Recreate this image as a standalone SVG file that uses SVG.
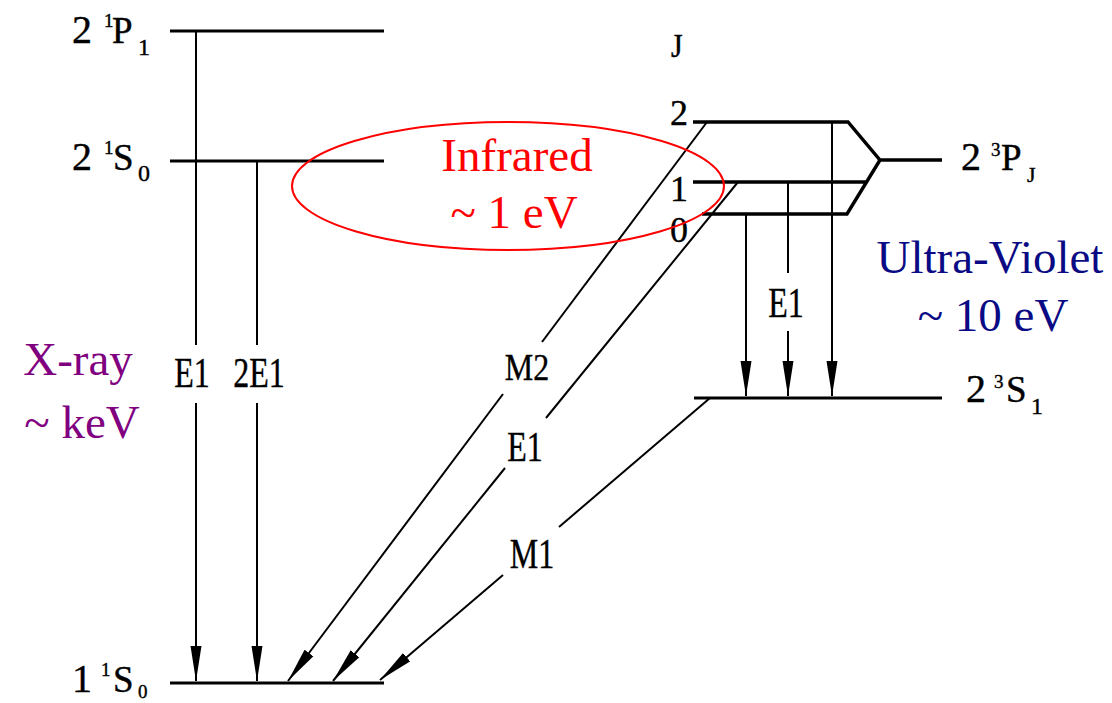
<svg xmlns="http://www.w3.org/2000/svg" width="1112" height="703" viewBox="0 0 1112 703">
<style>
.lvl{stroke:#000;stroke-width:3;fill:none}
.trip{stroke:#000;stroke-width:3.4;fill:none;stroke-linejoin:miter}
.cn{stroke:#000;stroke-width:2;fill:none}
.t{font-family:"Liberation Serif","Times New Roman",serif;fill:#000;stroke:#000;stroke-width:0.4}
.lab{font-family:"Liberation Serif","Times New Roman",serif;fill:#000;stroke:#000;stroke-width:0.3;font-size:32px;text-anchor:middle}
.big{font-family:"Liberation Serif","Times New Roman",serif;font-size:47px;text-anchor:middle}
</style>
<defs>
<marker id="ah" markerUnits="userSpaceOnUse" markerWidth="36" markerHeight="12" refX="35" refY="6" orient="auto">
<path d="M0,0.5 L35,6 L0,11.5 Z" fill="#000"/>
</marker>
</defs>
<rect width="1112" height="703" fill="#fff"/>

<g id="level-2-1P1">
<line class="lvl" x1="170" y1="31" x2="384" y2="31"/>
<text class="t" x="72" y="43" font-size="40">2</text>
<text class="t" x="104" y="27" font-size="19">1</text>
<text class="t" x="112" y="43" font-size="37">P</text>
<text class="t" x="138" y="55" font-size="24">1</text>
</g>

<g id="level-2-1S0">
<line class="lvl" x1="170" y1="161" x2="384" y2="161"/>
<text class="t" x="72" y="170" font-size="40">2</text>
<text class="t" x="104" y="154" font-size="19">1</text>
<text class="t" x="113" y="170" font-size="37">S</text>
<text class="t" x="138" y="181" font-size="24">0</text>
</g>

<g id="level-1-1S0">
<line class="lvl" x1="170" y1="683" x2="384" y2="683"/>
<text class="t" x="72" y="692" font-size="40">1</text>
<text class="t" x="101" y="676" font-size="19">1</text>
<text class="t" x="113" y="692" font-size="37">S</text>
<text class="t" x="138" y="698" font-size="19">0</text>
</g>

<g id="level-2-3PJ">
<path class="trip" d="M693,122 L848,122 L880,160 L942,160 M880,160 L847,214 L702,214 M693,182 L866,182"/>
<text class="t" transform="translate(671,57) scale(1,1.15)" font-size="30">J</text>
<text class="t" x="670" y="125" font-size="36">2</text>
<text class="t" x="670" y="201" font-size="36">1</text>
<text class="t" x="670" y="242" font-size="36">0</text>
<text class="t" x="961" y="170" font-size="40">2</text>
<text class="t" x="991" y="156" font-size="19">3</text>
<text class="t" x="1001" y="170" font-size="37">P</text>
<text class="t" x="1027" y="182" font-size="22">J</text>
</g>

<g id="level-2-3S1">
<line class="lvl" x1="694" y1="398" x2="942" y2="398"/>
<text class="t" x="966" y="402" font-size="40">2</text>
<text class="t" x="994" y="388" font-size="19">3</text>
<text class="t" x="1006" y="402" font-size="37">S</text>
<text class="t" x="1031" y="414" font-size="24">1</text>
</g>

<g id="connectors">
<line class="cn" x1="196" y1="31" x2="196" y2="345"/>
<line class="cn" x1="196" y1="403" x2="196" y2="681" marker-end="url(#ah)"/>
<line class="cn" x1="257" y1="161" x2="257" y2="345"/>
<line class="cn" x1="257" y1="403" x2="257" y2="681" marker-end="url(#ah)"/>
<line class="cn" x1="707" y1="122" x2="542" y2="342"/>
<line class="cn" x1="503" y1="394" x2="288" y2="681" marker-end="url(#ah)"/>
<line class="cn" x1="738" y1="182" x2="546" y2="418"/>
<line class="cn" x1="505" y1="468" x2="333" y2="681" marker-end="url(#ah)"/>
<line class="cn" x1="710" y1="398" x2="559" y2="527"/>
<line class="cn" x1="503" y1="575" x2="380" y2="680" marker-end="url(#ah)"/>
<line class="cn" x1="746" y1="214" x2="746" y2="396" marker-end="url(#ah)"/>
<line class="cn" x1="788" y1="182" x2="788" y2="273"/>
<line class="cn" x1="788" y1="331" x2="788" y2="396" marker-end="url(#ah)"/>
<line class="cn" x1="832" y1="122" x2="832" y2="396" marker-end="url(#ah)"/>
<text class="lab" transform="translate(192,387) scale(1,1.3)">E1</text>
<text class="lab" transform="translate(259,387) scale(1,1.3)">2E1</text>
<text class="lab" transform="translate(527,380) scale(1,1.2)">M2</text>
<text class="lab" transform="translate(525,461) scale(1,1.3)">E1</text>
<text class="lab" transform="translate(532,568) scale(1,1.3)">M1</text>
<text class="lab" transform="translate(786,317) scale(1,1.3)">E1</text>
</g>

<g id="infrared">
<ellipse cx="508" cy="186" rx="216" ry="64" fill="none" stroke="#ff0000" stroke-width="2"/>
<text class="big" x="517" y="171" font-size="46" fill="#ff0000">Infrared</text>
<text class="big" x="514" y="228" font-size="46" fill="#ff0000">~ 1 eV</text>
</g>

<g id="ultraviolet">
<text class="big" x="990" y="273" fill="#0a0a84">Ultra-Violet</text>
<text class="big" x="993" y="331" fill="#0a0a84">~ 10 eV</text>
</g>

<g id="xray">
<text class="big" x="78" y="375" font-size="53" fill="#800080">X-ray</text>
<text class="big" x="82" y="438" font-size="53" fill="#800080">~ keV</text>
</g>
</svg>
